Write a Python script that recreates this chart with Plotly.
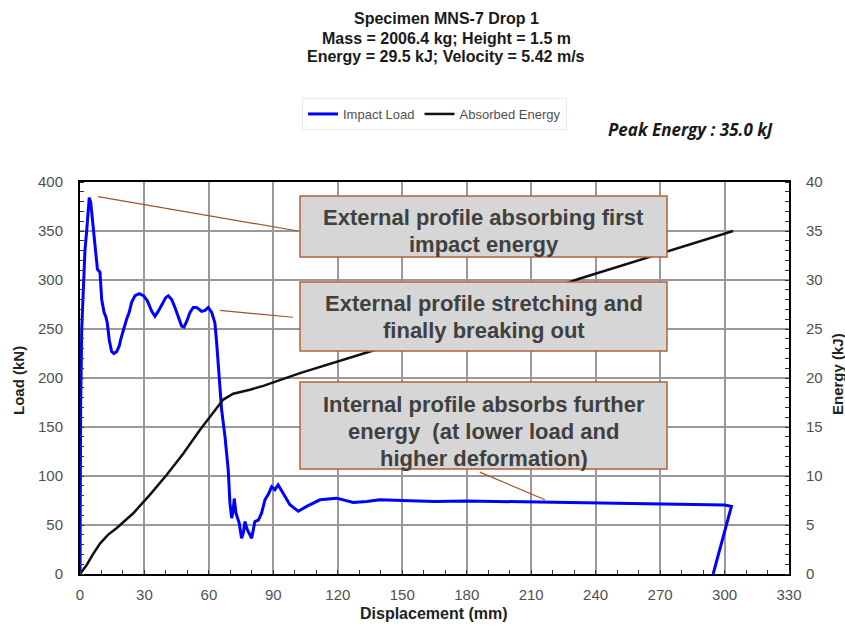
import plotly.graph_objects as go

# ---------------- data ----------------
load_x = [0, 0.3, 0.8, 1.5, 2.3, 3.1, 3.8, 4.3, 5.0, 5.9, 7.0, 8.1, 9.3, 9.6, 10.1, 11.2, 12.1, 12.7,
          13.6, 14.7, 15.8, 17.1, 18.3, 18.9, 20.2, 21.7, 22.9, 24.0, 25.6, 27.6, 29.5, 31.3, 33.4,
          34.9, 36.4, 38.0, 39.9, 41.1, 42.7, 44.2, 45.7, 47.3, 48.4, 49.7, 51.2, 52.7, 54.3, 56.6,
          58.2, 59.7, 61.3, 62.8, 63.6, 64.4, 65.9, 67.5, 68.3, 69.0, 69.8, 70.6, 71.3, 71.8, 72.6,
          74.1, 75.2, 76.0, 76.8, 77.9, 79.1, 79.9, 81.4, 83.0, 83.8, 84.5, 86.1, 87.6, 89.2, 90.7,
          92.2, 94.6, 97.7, 100.8, 101.6, 105.5, 111.7, 119.4, 127.2, 133.4, 139.6, 150, 165, 180,
          195, 210, 225, 240, 255, 270, 285, 300, 303.2, 294.7]
load_y = [0, 170, 250, 290, 330, 350, 372, 384, 379, 359, 328, 311, 308, 297, 280, 267, 262, 256,
          239, 227, 225, 227, 233, 239, 250, 260, 267, 277, 284, 286, 284, 279, 268,
          263, 268, 275, 282, 284, 280, 272, 263, 253, 252, 258, 267, 272, 272, 268,
          269, 272, 267, 256, 236, 209, 168, 140, 123, 106, 72, 57, 65, 77, 62,
          52, 36.5, 41.6, 53.5, 45, 40, 36.5, 53.5, 55, 58.6, 62, 75.7, 81, 89, 86,
          91, 82.5, 70.6, 65.5, 64, 69, 75.7, 77.4, 73, 74, 75.7, 75, 74, 74.5,
          74, 73.5, 73.5, 73, 72.5, 72, 71.5, 70.5, 69, 0]

energy_x = [0, 3.1, 6, 9.3, 13, 17.1, 24.8, 32.6, 40.3, 48.1, 55.8, 62.0, 66.7, 71.3, 79.1, 85.3,
            91.5, 97.7, 102.4, 136.5, 180, 232, 304]
energy_y = [0, 0.92, 2.0, 3.1, 4.0, 4.7, 6.2, 8.1, 10.1, 12.3, 14.7, 16.4, 17.8, 18.4, 18.8, 19.2,
            19.7, 20.2, 20.5, 22.8, 26.1, 30.1, 35.0]

x_ticks = list(range(0, 331, 30))
load_ticks = list(range(0, 401, 50))
energy_ticks = list(range(0, 41, 5))

title_lines = ["Specimen MNS-7 Drop 1", "Mass = 2006.4 kg; Height = 1.5 m",
               "Energy = 29.5 kJ; Velocity = 5.42 m/s"]
box_lines = [["External profile absorbing first", "impact energy"],
             ["External profile stretching and", "finally breaking out"],
             ["Internal profile absorbs further", "energy  (at lower load and", "higher deformation)"]]

# ---------------- layout helpers (pixel -> paper) ----------------
W, H = 845, 626
L, R, T, B = 80, 56, 182, 52
PW, PH = W - L - R, H - T - B
def px(x):
    return (x - L) / PW
def py(y):
    return (H - B - y) / PH

FONT = "Arial, Liberation Sans, sans-serif"

fig = go.Figure()
fig.add_trace(go.Scatter(x=load_x, y=load_y, mode="lines", name="Impact Load",
                         line=dict(color="#0000ff", width=3)))
fig.add_trace(go.Scatter(x=energy_x, y=energy_y, mode="lines", name="Absorbed Energy",
                         line=dict(color="#111111", width=2.5), yaxis="y2"))

grid = "#999999"
tickfont = dict(size=15, color="#505050", family=FONT)
fig.update_layout(
    width=W, height=H, margin=dict(l=L, r=R, t=T, b=B, autoexpand=False),
    paper_bgcolor="white", plot_bgcolor="white",
    font=dict(family=FONT, color="#404040"),
    showlegend=True,
    legend=dict(orientation="h", x=px(302), y=py(98), xanchor="left", yanchor="top",
                font=dict(size=13, color="#505050"), bordercolor="#ebebeb", borderwidth=1,
                itemwidth=30, tracegroupgap=0, bgcolor="white"),
    xaxis=dict(range=[0, 330], tickvals=x_ticks, showgrid=True, gridcolor=grid, gridwidth=1.5,
               showline=True, linecolor="black", linewidth=2, mirror=True, zeroline=False,
               ticks="", tickfont=tickfont, ticklabelstandoff=6, automargin=False,
               minor=dict(ticks="inside", dtick=10, ticklen=4, tickcolor="#333", showgrid=False)),
    yaxis=dict(range=[0, 400], tickvals=load_ticks, showgrid=True, gridcolor=grid, gridwidth=1.5,
               showline=True, linecolor="black", linewidth=2, mirror=True, zeroline=False,
               ticks="", tickfont=tickfont, ticklabelstandoff=12, automargin=False,
               minor=dict(ticks="inside", dtick=10, ticklen=4, tickcolor="#333", showgrid=False)),
    yaxis2=dict(range=[0, 40], tickvals=energy_ticks, overlaying="y", side="right", showgrid=False,
                zeroline=False, showline=True, linecolor="black", linewidth=2,
                ticks="", tickfont=tickfont, ticklabelstandoff=12, automargin=False,
                minor=dict(ticks="inside", dtick=1, ticklen=4, tickcolor="#333")),
)

# axis titles
axis_titles = [("Displacement (mm)", 434, 613, 0), ("Load (kN)", 18, 381, -90), ("Energy (kJ)", 837, 374, -90)]
for t, xx, yy, ang in axis_titles:
    fig.add_annotation(text="<b>%s</b>" % t, xref="paper", yref="paper", x=px(xx), y=py(yy),
                       showarrow=False, textangle=ang, xanchor="center", yanchor="middle",
                       font=dict(size=16 if ang == 0 else 15, color="#222", family=FONT))

# title
for t, yy in zip(title_lines, [18, 38, 57]):
    fig.add_annotation(text="<b>%s</b>" % t, xref="paper", yref="paper", x=px(446), y=py(yy),
                       showarrow=False, font=dict(size=16, color="#1a1a1a", family=FONT),
                       xanchor="center", yanchor="middle")

fig.add_annotation(text="<b><i>Peak Energy : 35.0 kJ</i></b>", xref="paper", yref="paper",
                   x=px(690), y=py(129), showarrow=False, xanchor="center", yanchor="middle",
                   font=dict(size=17, color="#1a1a1a", family="Open Sans, sans-serif"))

# boxes
boxes = [(196, 257), (282, 351), (382, 469)]
line_y = [[217, 244], [303, 330], [404, 431, 458]]
for (top, bot), lines, ys in zip(boxes, box_lines, line_y):
    fig.add_shape(type="rect", xref="paper", yref="paper", x0=px(300), x1=px(667),
                  y0=py(bot), y1=py(top), fillcolor="#d6d6d6",
                  line=dict(color="#b0643a", width=1.5), layer="above")
    for ln, yy in zip(lines, ys):
        fig.add_annotation(text="<b>%s</b>" % ln, xref="paper", yref="paper", x=px(483.5),
                           y=py(yy), showarrow=False, xanchor="center", yanchor="middle",
                           font=dict(size=22, color="#404040", family=FONT))

# leader lines (data coords)
leaders = [((8.4, 385), (101.4, 350)), ((65.1, 269), (99.1, 262)), ((186.1, 104), (216.4, 75.7))]
for (a, b) in leaders:
    fig.add_shape(type="line", xref="x", yref="y", x0=a[0], y0=a[1], x1=b[0], y1=b[1],
                  line=dict(color="#a0522d", width=1.2), layer="above")

fig.write_html("out.html")
